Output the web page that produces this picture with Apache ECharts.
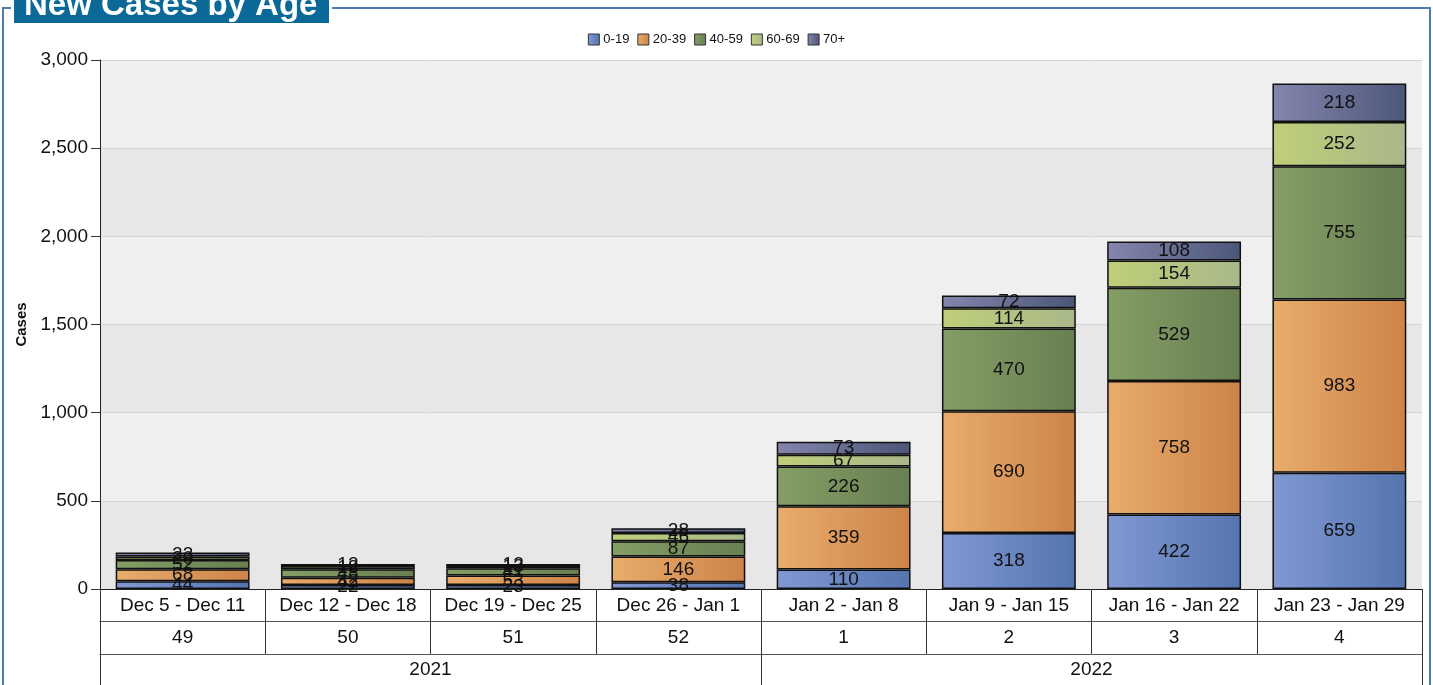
<!DOCTYPE html>
<html>
<head>
<meta charset="utf-8">
<script src="https://cdn.jsdelivr.net/npm/echarts@6/dist/echarts.min.js"></script>
<style>
html, body { margin: 0; padding: 0; background: #fff; }
#chart { width: 1433px; height: 685px; }
</style>
</head>
<body>
<div id="chart"></div>
<script>
// 数据
var weeks = ['Dec 5 - Dec 11', 'Dec 12 - Dec 18', 'Dec 19 - Dec 25', 'Dec 26 - Jan 1',
	'Jan 2 - Jan 8', 'Jan 9 - Jan 15', 'Jan 16 - Jan 22', 'Jan 23 - Jan 29'];
var weekNums = ['49', '50', '51', '52', '1', '2', '3', '4'];
var years = ['2021', '2022'];
var ages = ['0-19', '20-39', '40-59', '60-69', '70+'];
var age0 = [44, 22, 23, 38, 110, 318, 422, 659];
var age20 = [68, 42, 53, 146, 359, 690, 758, 983];
var age40 = [52, 48, 41, 87, 226, 470, 529, 755];
var age60 = [20, 18, 13, 46, 67, 114, 154, 252];
var age70 = [23, 12, 12, 28, 73, 72, 108, 218];

var colorPairs = [
	['#8199d3', '#5474b0'],
	['#e8ad6c', '#cd8349'],
	['#849e65', '#687f52'],
	['#bfcf78', '#a9b88a'],
	['#8585ad', '#4b5778']
];

var FONT = 'Liberation Sans, Arial, sans-serif';

function grad(pair) {
	return new echarts.graphic.LinearGradient(0, 0, 1, 0, [
		{ offset: 0, color: pair[0] },
		{ offset: 1, color: pair[1] }
	]);
}

function makeSeries(name, values, idx) {
	return {
		name: name,
		type: 'bar',
		stack: 'total',
		barCategoryGap: '19%',
		data: values,
		itemStyle: {
			color: grad(colorPairs[idx]),
			borderColor: '#111',
			borderWidth: 1.5
		},
		label: {
			show: true,
			position: 'inside',
			color: '#111',
			fontSize: 19,
			fontFamily: FONT
		}
	};
}

var myChart = echarts.init(document.getElementById('chart'));
var option = {
	animation: false,
	textStyle: { fontFamily: FONT },
	color: colorPairs.map(function(p) { return p[1]; }),
	legend: {
		top: 28,
		left: 'center',
		itemWidth: 11,
		itemHeight: 11,
		itemGap: 8,
		icon: 'rect',
		textStyle: { fontSize: 13, color: '#111', padding: [0, 0, 0, -1] },
		itemStyle: { borderColor: '#333', borderWidth: 1 },
		data: ages
	},
	grid: {
		left: 100,
		right: 11,
		top: 60,
		bottom: 96
	},
	xAxis: [{
		type: 'category',
		data: weeks,
		position: 'bottom',
		axisLine: { lineStyle: { color: '#222', width: 1 } },
		axisTick: { show: true, interval: 0, length: 32, lineStyle: { color: '#333' } },
		axisLabel: { interval: 0, fontSize: 19, color: '#111', margin: 7 }
	}, {
		type: 'category',
		data: weekNums,
		position: 'bottom',
		offset: 32,
		axisLine: { lineStyle: { color: '#555', width: 1 } },
		axisTick: { show: true, interval: 0, length: 33, lineStyle: { color: '#333' } },
		axisLabel: { interval: 0, fontSize: 19, color: '#111', margin: 7 }
	}, {
		type: 'category',
		data: years,
		position: 'bottom',
		offset: 65,
		axisLine: { lineStyle: { color: '#555', width: 1 } },
		axisTick: { show: true, interval: 0, length: 40, lineStyle: { color: '#333' } },
		axisLabel: { interval: 0, fontSize: 19, color: '#111', margin: 6 }
	}],
	yAxis: {
		type: 'value',
		min: 0,
		max: 3000,
		interval: 500,
		name: 'Cases',
		nameLocation: 'middle',
		nameGap: 71,
		nameTextStyle: { fontSize: 15, fontWeight: 'bold', color: '#111' },
		axisLine: { show: true, lineStyle: { color: '#222' } },
		axisTick: { show: true, length: 9, lineStyle: { color: '#333' } },
		axisLabel: {
			fontSize: 19,
			color: '#111',
			margin: 12,
			formatter: function(v) { return v.toLocaleString('en-US'); }
		},
		splitLine: { lineStyle: { color: '#d4d4d4' } },
		splitArea: { show: true, areaStyle: { color: ['#e7e7e7', '#efefef'] } }
	},
	graphic: [{
		type: 'polyline',
		shape: { points: [[332, 8], [1430, 8], [1430, 700]] },
		style: { stroke: '#4f7db0', lineWidth: 2, fill: null }
	}, {
		type: 'polyline',
		shape: { points: [[11, 8], [3, 8], [3, 700]] },
		style: { stroke: '#4f7db0', lineWidth: 2, fill: null }
	}, {
		type: 'rect',
		shape: { x: 14, y: -6, width: 315, height: 29 },
		style: { fill: '#0a6996' }
	}, {
		type: 'text',
		x: 24,
		y: 6,
		style: {
			text: 'New Cases by Age',
			fill: '#fff',
			font: 'bold 33px "Liberation Sans", Arial, sans-serif',
			verticalAlign: 'middle'
		}
	}],
	series: [
		makeSeries(ages[0], age0, 0),
		makeSeries(ages[1], age20, 1),
		makeSeries(ages[2], age40, 2),
		makeSeries(ages[3], age60, 3),
		makeSeries(ages[4], age70, 4)
	]
};
myChart.setOption(option);
window.onresize = function() {
	myChart.resize();
};
</script>
</body>
</html>
